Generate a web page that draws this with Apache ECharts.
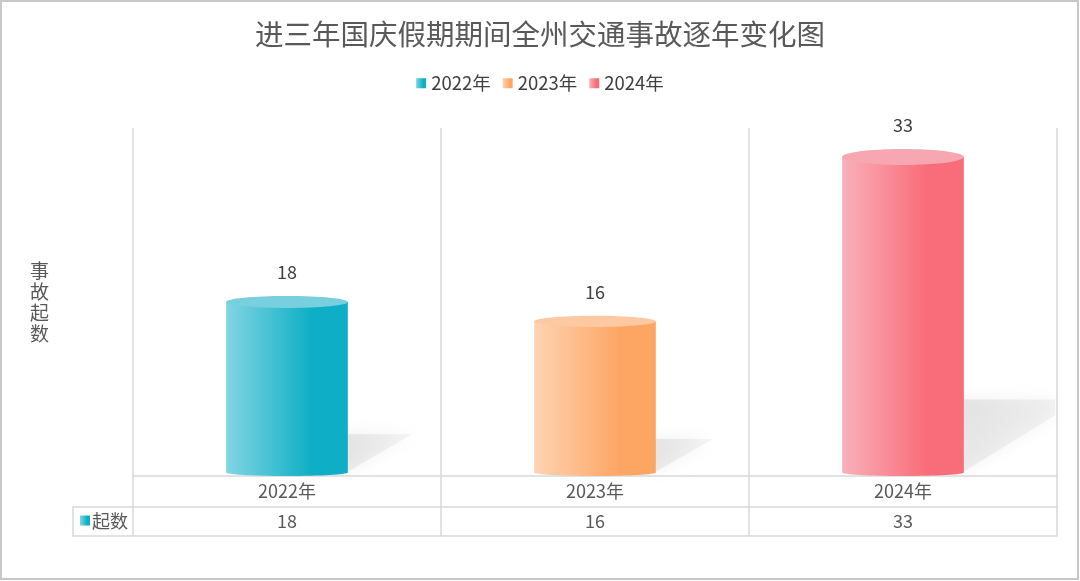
<!DOCTYPE html>
<html>
<head>
<meta charset="utf-8">
<script src="https://cdn.jsdelivr.net/npm/echarts@6/dist/echarts.min.js"></script>
<style>
  html, body { margin: 0; padding: 0; background: #fff; }
  #chart { width: 1080px; height: 581px; }
</style>
</head>
<body>
<div id="chart"></div>
<script>
const TITLE = "进三年国庆假期期间全州交通事故逐年变化图";
const CATEGORIES = ["2022年", "2023年", "2024年"];
const VALUES = [18, 16, 33];
const ROW_NAME = "起数";
const AXIS_NAME = "事故起数";

// left (light) / right (dark) / top cap colour per year
const LIGHT = ["#82d5e2", "#fed3b3", "#f9b0ba"];
const DARK = ["#0eafc6", "#fda664", "#f96c79"];
const CAP = ["#78cfdd", "#fdc9a2", "#f7a7b1"];

const FONT = '"Noto Sans CJK SC", "Noto Sans", sans-serif';
const GRID_LINE = "#d9d9d9";
const TEXT = "#595959";

function sideGradient(i) {
  return new echarts.graphic.LinearGradient(0, 0, 1, 0, [
    { offset: 0, color: LIGHT[i] },
    { offset: 0.7, color: DARK[i] },
    { offset: 1, color: DARK[i] },
  ]);
}

function renderCylinder(params, api) {
  const idx = api.value(0);
  const value = api.value(1);
  const top = api.coord([idx, value]);
  const base = api.coord([idx, 0]);
  const band = api.size([1, 0])[0];
  const w = band * 0.395;
  const cx = top[0];
  const xl = cx - w / 2;
  const xr = cx + w / 2;
  const h = base[1] - top[1];
  const ryTop = 3.5 + h * 0.014;
  const ryBot = 3.5;
  const yb = base[1] - ryBot;
  const xmax = params.coordSys.x + params.coordSys.width;

  // cast shadow to the upper right, cut at the plot edge
  const sTop = base[1] - h * 0.24;
  const sw = h * 0.37;
  let shadowPts = [[xr - 4, sTop], [xr + sw, sTop], [xr - 4, base[1] - 2]];
  if (xr + sw > xmax) {
    const t = (xr + sw - xmax) / sw;
    shadowPts = [[xr - 4, sTop], [xmax - 2, sTop], [xmax - 2, sTop + t * (base[1] - sTop)], [xr - 4, base[1] - 2]];
  }

  return {
    type: "group",
    children: [
      {
        type: "polygon",
        shape: { points: shadowPts },
        style: {
          fill: new echarts.graphic.LinearGradient(0, 0, 1, 1, [
            { offset: 0, color: "rgba(215,215,215,0.6)" },
            { offset: 1, color: "rgba(230,230,230,0.25)" },
          ]),
          shadowBlur: 16,
          shadowColor: "rgba(215,215,215,0.7)",
        },
      },
      {
        type: "ellipse",
        shape: { cx: cx, cy: yb, rx: w / 2, ry: ryBot },
        style: { fill: sideGradient(idx) },
      },
      {
        type: "rect",
        shape: { x: xl, y: top[1], width: w, height: yb - top[1] },
        style: { fill: sideGradient(idx) },
      },
      {
        type: "ellipse",
        shape: { cx: cx, cy: top[1], rx: w / 2, ry: ryTop },
        style: { fill: CAP[idx] },
      },
      {
        type: "text",
        x: cx,
        y: top[1] - ryTop - 24,
        style: {
          text: String(value),
          fill: "#404040",
          font: "18px " + FONT,
          align: "center",
          verticalAlign: "middle",
        },
      },
    ],
  };
}

const chart = echarts.init(document.getElementById("chart"));

chart.setOption({
  animation: false,
  textStyle: { fontFamily: FONT },
  title: {
    text: TITLE,
    left: "center",
    top: 15,
    textStyle: { fontSize: 28.5, fontWeight: "normal", color: TEXT, fontFamily: FONT },
  },
  legend: {
    top: 69,
    left: "center",
    icon: "rect",
    itemWidth: 10,
    itemHeight: 10,
    itemGap: 12,
    textStyle: { fontSize: 18.5, color: "#404040", fontFamily: FONT },
    data: CATEGORIES,
  },
  grid: { left: 133, right: 23, top: 128, bottom: 105 },
  xAxis: [
    {
      type: "category",
      data: CATEGORIES,
      axisLine: { lineStyle: { color: GRID_LINE, width: 1.5 } },
      axisTick: { show: true, length: 60, interval: 0, lineStyle: { color: GRID_LINE, width: 1.5 } },
      axisLabel: { margin: 6, fontSize: 18, color: TEXT, fontFamily: FONT },
      splitLine: { show: true, interval: 0, lineStyle: { color: GRID_LINE, width: 1.5 } },
    },
    {
      type: "category",
      position: "bottom",
      offset: 31,
      data: VALUES.map(String),
      axisLine: { lineStyle: { color: GRID_LINE, width: 1.5 } },
      axisTick: { show: false },
      axisLabel: { margin: 5, fontSize: 18, color: TEXT, fontFamily: FONT },
    },
    {
      type: "category",
      position: "bottom",
      offset: 60,
      data: CATEGORIES,
      axisLine: { lineStyle: { color: GRID_LINE, width: 1.5 } },
      axisTick: { show: false },
      axisLabel: { show: false },
    },
  ],
  yAxis: {
    type: "value",
    min: 0,
    max: 36,
    axisLine: { show: false },
    axisTick: { show: false },
    axisLabel: { show: false },
    splitLine: { show: false },
    name: AXIS_NAME.split("").join("\n"),
    nameLocation: "middle",
    nameRotate: 0,
    nameGap: 84,
    nameTextStyle: { fontSize: 19, lineHeight: 21, color: TEXT, fontFamily: FONT },
  },
  graphic: [
    {
      type: "rect",
      shape: { x: 1, y: 1, width: 1077, height: 578 },
      style: { fill: "none", stroke: "#c8c8c8", lineWidth: 2 },
      silent: true,
    },
    {
      type: "polyline",
      shape: { points: [[133, 507], [73, 507], [73, 536], [133, 536]] },
      style: { fill: "none", stroke: GRID_LINE, lineWidth: 1.5 },
      silent: true,
    },
    {
      type: "rect",
      shape: { x: 80, y: 515.5, width: 10, height: 10 },
      style: { fill: sideGradient(0) },
      silent: true,
    },
    {
      type: "text",
      x: 92,
      y: 521,
      style: { text: ROW_NAME, fill: TEXT, font: "18px " + FONT, verticalAlign: "middle" },
      silent: true,
    },
  ],
  series: CATEGORIES.map((name, i) => ({
    name: name,
    type: "custom",
    xAxisIndex: 0,
    itemStyle: { color: sideGradient(i) },
    renderItem: renderCylinder,
    encode: { x: 0, y: 1 },
    data: [[i, VALUES[i]]],
  })),
});
</script>
</body>
</html>
